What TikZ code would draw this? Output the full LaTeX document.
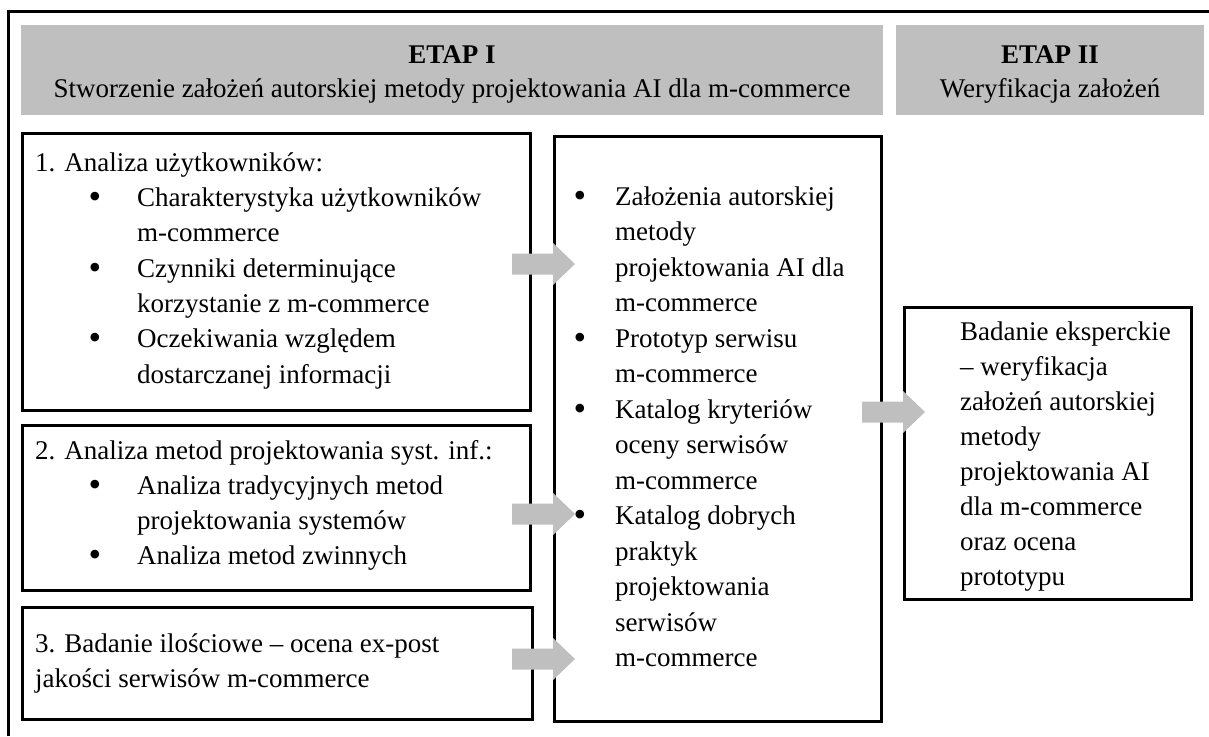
\documentclass[tikz,border=0pt]{standalone}
\usepackage{fontspec}
\setmainfont{Liberation Serif}
\definecolor{headgrey}{RGB}{191,191,191}
\definecolor{arrowgrey}{RGB}{191,191,191}
\newcommand{\garrowat}[1]{\fill[garrow] (#1) ++(-41,-10.5) -- ++(41,0) -- ++(0,-10.5) -- ++(22,21) -- ++(-22,21) -- ++(0,-10.5) -- ++(-41,0) -- cycle;}
\begin{document}
\begin{tikzpicture}[x=1pt,y=-1pt,
  font=\fontsize{27}{35}\selectfont,
  box/.style={draw=black, line width=2.6pt, fill=white, anchor=north west, inner sep=0pt},
  hdr/.style={fill=headgrey, anchor=north west, inner sep=0pt},
  txt/.style={anchor=base west, inner sep=0pt},
  ctxt/.style={anchor=base, inner sep=0pt},
  bul/.style={anchor=base, inner sep=0pt, font=\fontsize{36}{36}\selectfont},
  garrow/.style={fill=arrowgrey},
  frame/.style={draw=black, line width=3pt}]
\useasboundingbox (0,0) rectangle (1209,736);
% outer frame (left and top only)
\draw[frame] (8,736) -- (8,11) -- (1209,11);
% headers
\node[hdr, minimum width=862pt, minimum height=90pt] (h1) at (21,25) {};
\node[hdr, minimum width=308pt, minimum height=90pt] (h2) at (896,25) {};
\node[ctxt, font=\fontsize{27}{35}\selectfont\bfseries] (h1a) at (452,63) {ETAP I};
\node[ctxt] (h1b) at (452,97) {Stworzenie założeń autorskiej metody projektowania AI dla m-commerce};
\node[ctxt, font=\fontsize{27}{35}\selectfont\bfseries] (h2a) at (1050,63) {ETAP II};
\node[ctxt] (h2b) at (1050,97) {Weryfikacja założeń};
% boxes
\node[box, minimum width=508pt, minimum height=277pt] (b1) at (21,132) {};
\node[box, minimum width=508pt, minimum height=165pt] (b2) at (21,424) {};
\node[box, minimum width=510pt, minimum height=112pt] (b3) at (21,606) {};
\node[box, minimum width=327pt, minimum height=585pt] (mid) at (553,135) {};
\node[box, minimum width=287pt, minimum height=292pt] (res) at (903,306) {};
% box 1 text
\node[txt] (b1l1) at (35,171) {1. Analiza użytkowników:};
\node[bul] (b1u1) at (95,208) {•};
\node[txt] (b1l2) at (137,206) {Charakterystyka użytkowników};
\node[txt] (b1l3) at (137,241.5) {m-commerce};
\node[bul] (b1u2) at (95,279) {•};
\node[txt] (b1l4) at (137,277) {Czynniki determinujące};
\node[txt] (b1l5) at (137,312) {korzystanie z m-commerce};
\node[bul] (b1u3) at (95,349.5) {•};
\node[txt] (b1l6) at (137,347.5) {Oczekiwania względem};
\node[txt] (b1l7) at (137,383) {dostarczanej informacji};
% box 2 text
\node[txt] (b2l1) at (35,459) {2. Analiza metod projektowania syst. inf.:};
\node[bul] (b2u1) at (95,496) {•};
\node[txt] (b2l2) at (137,494) {Analiza tradycyjnych metod};
\node[txt] (b2l3) at (137,529) {projektowania systemów};
\node[bul] (b2u2) at (95,566) {•};
\node[txt] (b2l4) at (137,564) {Analiza metod zwinnych};
% box 3 text
\node[txt] (b3l1) at (35,652) {3. Badanie ilościowe – ocena ex-post};
\node[txt] (b3l2) at (35,687) {jakości serwisów m-commerce};
% middle box text
\node[bul] (mu1) at (580,207) {•};
\node[txt] (ml1) at (615,205) {Założenia autorskiej};
\node[txt] (ml2) at (615,240.5) {metody};
\node[txt] (ml3) at (615,276) {projektowania AI dla};
\node[txt] (ml4) at (615,311.5) {m-commerce};
\node[bul] (mu2) at (580,349) {•};
\node[txt] (ml5) at (615,347) {Prototyp serwisu};
\node[txt] (ml6) at (615,382.5) {m-commerce};
\node[bul] (mu3) at (580,420) {•};
\node[txt] (ml7) at (615,418) {Katalog kryteriów};
\node[txt] (ml8) at (615,453.5) {oceny serwisów};
\node[txt] (ml9) at (615,489) {m-commerce};
\node[bul] (mu4) at (580,526.5) {•};
\node[txt] (ml10) at (615,524.5) {Katalog dobrych};
\node[txt] (ml11) at (615,560) {praktyk};
\node[txt] (ml12) at (615,595.5) {projektowania};
\node[txt] (ml13) at (615,631) {serwisów};
\node[txt] (ml14) at (615,666.5) {m-commerce};
% result box text
\node[txt] (r1) at (960,340) {Badanie eksperckie};
\node[txt] (r2) at (960,375) {– weryfikacja};
\node[txt] (r3) at (960,410) {założeń autorskiej};
\node[txt] (r4) at (960,445) {metody};
\node[txt] (r5) at (960,480) {projektowania AI};
\node[txt] (r6) at (960,515) {dla m-commerce};
\node[txt] (r7) at (960,550) {oraz ocena};
\node[txt] (r8) at (960,585) {prototypu};
% arrows
\coordinate (a1) at (553,264);
\coordinate (a2) at (553,514);
\coordinate (a3) at (553,659);
\coordinate (a4) at (903,412);
\garrowat{a1}
\garrowat{a2}
\garrowat{a3}
\garrowat{a4}
\end{tikzpicture}
\end{document}
